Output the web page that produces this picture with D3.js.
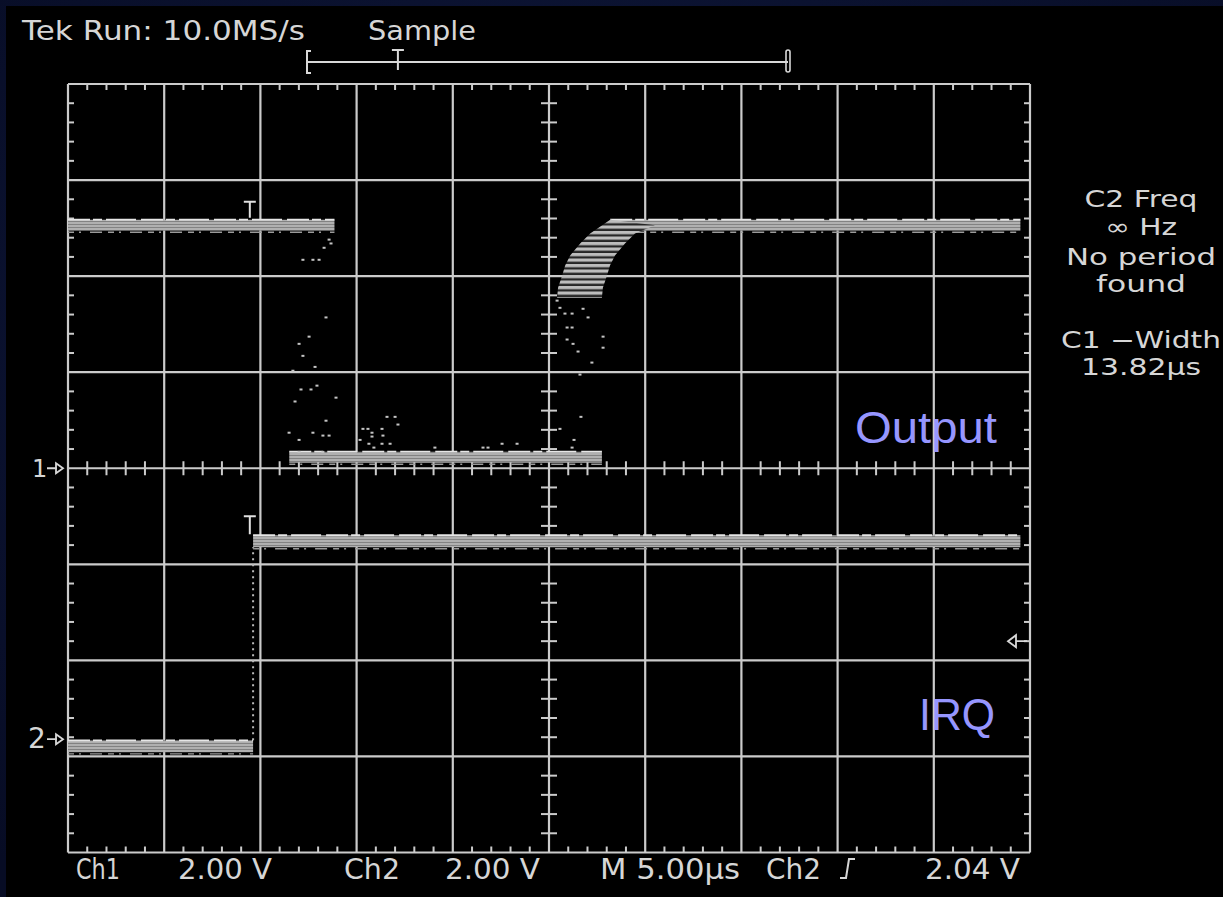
<!DOCTYPE html>
<html><head><meta charset="utf-8">
<script src="https://cdn.jsdelivr.net/npm/d3@7"></script>
<style>html,body{margin:0;padding:0;background:#0a1130;overflow:hidden}</style>
</head><body><svg id="c" width="1223" height="897"></svg>
<script>
// ---------------- data ----------------
const timeGrid = [0, 5, 10, 15, 20, 25, 30, 35, 40, 45, 50];      // µs (M 5.00µs / div)
const divGrid = [-4, -3, -2, -1, 0, 1, 2, 3, 4];                 // vertical divisions
const voltsPerDiv = 2.0;                                         // Ch1 & Ch2 2.00 V
const channelOffsetsDiv = [0, -2.82];                            // ground markers "1" and "2"
const channelLabels = ["1", "2"];
const traceNames = ["Output", "IRQ"];

// Ch1 = Output
const outLevels = [5.06, 0.23];                 // high, low (V)
const outFallTimes = [11.5, 13.85];             // earliest / latest falling edge (µs)
const outRiseTimes = [25.42, 27.75];            // earliest / latest rising edge (µs)
const recoveryDt = [0, 0.05, 0.26, 0.42, 0.68, 1.2, 1.72, 2.76];   // µs after rise
const recoveryV  = [3.55, 3.76, 4.01, 4.22, 4.43, 4.68, 4.89, 5.06];
const recordEnd = 49.5;
const outEdgeSamples = [
  [13.57,4.76],[13.67,4.68],[13.31,4.59],[12.21,4.34],[12.73,4.34],[13.05,4.34],
  [13.41,3.14],[12.53,2.74],[12.01,2.59],[12.21,2.34],[12.84,2.11],[11.69,2.03],
  [12.94,1.72],[12.11,1.64],[12.63,1.64],[11.80,1.39],[13.93,1.47],[13.41,0.99],
  [11.49,0.74],[12.73,0.74],[13.25,0.68],[13.57,0.68],[12.01,0.59],[13.25,0.34],
  [12.01,0.34],[16.58,1.07],[17.00,1.07],[17.15,0.91],[15.33,0.82],[15.59,0.82],
  [16.32,0.82],[15.80,0.74],[15.80,0.66],[16.37,0.68],[15.18,0.59],[15.64,0.51],
  [16.32,0.51],[16.74,0.51],[15.90,0.43],[19.07,0.43],[21.57,0.43],[21.83,0.43],
  [22.56,0.51],[23.34,0.51],[26.20,0.43],[26.30,0.59],[25.57,0.82],[26.66,1.07],
  [26.61,1.95],[27.23,2.20],[27.81,2.74],[27.81,2.51],[25.94,2.93],[26.20,2.93],
  [25.94,2.68],[26.25,2.59],[26.51,2.43],[27.03,3.14],[25.42,3.49],[25.57,3.34],
  [25.83,3.22],[26.20,3.22],[26.77,3.32]
];

// Ch2 = IRQ
const irqLevels = [4.12, -0.15];               // high, low (V)
const irqEdgeTime = 9.62;                      // µs

const triggerTime = 9.45;                      // µs
const triggerLevel = 2.04;                     // V on Ch2

const headerTexts = ["Tek Run: 10.0MS/s", "Sample"];
const footerTexts = ["Ch1", "2.00 V", "Ch2", "2.00 V", "M 5.00µs", "Ch2", "2.04 V"];
const measurementTexts = ["C2 Freq", "∞ Hz", "No period", "found", "C1 −Width", "13.82µs"];

// ---------------- layout ----------------
const svg = d3.select("#c");
const W = 1223, H = 897;
const x = d3.scaleLinear().domain([0, 50]).range([68, 1030]);
const yDiv = d3.scaleLinear().domain([-4, 4]).range([852.5, 84]);
const yCh = (ch, v) => yDiv(channelOffsetsDiv[ch] + v / voltsPerDiv);
const rec = d3.scaleLinear().domain([0, 50]).range([307, 788]);
const grey = "#cbcbcb", textCol = "#d6d6d6";

const defs = svg.append("defs");
const p1 = defs.append("pattern").attr("id", "band").attr("patternUnits", "userSpaceOnUse")
  .attr("width", 8).attr("height", 3);
p1.append("rect").attr("width", 8).attr("height", 3).attr("fill", "#828282");
p1.append("rect").attr("width", 8).attr("height", 2).attr("fill", "#b0b0b0");
const p2 = defs.append("pattern").attr("id", "rise").attr("patternUnits", "userSpaceOnUse")
  .attr("width", 8).attr("height", 5.5);
p2.append("rect").attr("width", 8).attr("height", 5.5).attr("fill", "#262626");
p2.append("rect").attr("width", 8).attr("height", 3.2).attr("fill", "#bdbdbd");
const rg = defs.append("radialGradient").attr("id", "bg").attr("cx", "50%").attr("cy", "40%").attr("r", "75%");
rg.append("stop").attr("offset", "0%").attr("stop-color", "#101a40");
rg.append("stop").attr("offset", "100%").attr("stop-color", "#070c24");

svg.append("rect").attr("width", W).attr("height", H).attr("fill", "url(#bg)");
svg.append("rect").attr("x", 6).attr("y", 6).attr("width", W - 6).attr("height", H - 6).attr("fill", "#000");

// ---- graticule ----
const g = svg.append("g");
g.selectAll("line.v").data(timeGrid).join("line")
  .attr("x1", d => x(d)).attr("x2", d => x(d)).attr("y1", yDiv(4)).attr("y2", yDiv(-4))
  .attr("stroke", grey).attr("stroke-width", 2.2);
g.selectAll("line.h").data(divGrid).join("line")
  .attr("y1", d => yDiv(d)).attr("y2", d => yDiv(d)).attr("x1", x(0)).attr("x2", x(50))
  .attr("stroke", grey).attr("stroke-width", 2.2);

const minorT = d3.range(0, 50.001, 1).filter(t => t % 5 !== 0);
const minorD = d3.range(-4, 4.001, 0.2).filter(d => Math.abs(d - Math.round(d)) > 1e-6);
const tk = svg.append("g").attr("stroke", grey).attr("stroke-width", 2);
minorT.forEach(t => {
  tk.append("line").attr("x1", x(t)).attr("x2", x(t)).attr("y1", yDiv(4)).attr("y2", yDiv(4) + 6);
  tk.append("line").attr("x1", x(t)).attr("x2", x(t)).attr("y1", yDiv(-4)).attr("y2", yDiv(-4) - 6);
  tk.append("line").attr("x1", x(t)).attr("x2", x(t)).attr("y1", yDiv(0) - 7).attr("y2", yDiv(0) + 7);
});
minorD.forEach(d => {
  tk.append("line").attr("y1", yDiv(d)).attr("y2", yDiv(d)).attr("x1", x(0)).attr("x2", x(0) + 6);
  tk.append("line").attr("y1", yDiv(d)).attr("y2", yDiv(d)).attr("x1", x(50)).attr("x2", x(50) - 6);
  tk.append("line").attr("y1", yDiv(d)).attr("y2", yDiv(d)).attr("x1", x(25) - 8).attr("x2", x(25) + 8);
});

// ---- traces ----
const tr = svg.append("g");
function band(ch, t0, t1, v, hw) {
  const pts = [[t0, v], [t1, v]];
  const area = d3.area().x(d => x(d[0])).y0(d => yCh(ch, d[1] - hw)).y1(d => yCh(ch, d[1] + hw));
  tr.append("path").attr("d", area(pts)).attr("fill", "url(#band)");
  tr.append("line").attr("x1", x(t0)).attr("x2", x(t1))
    .attr("y1", yCh(ch, v + hw)).attr("y2", yCh(ch, v + hw))
    .attr("stroke", "#e6e6e6").attr("stroke-width", 1.8).attr("stroke-dasharray", "22,3,9,4,30,5");
  tr.append("line").attr("x1", x(t0)).attr("x2", x(t1))
    .attr("y1", yCh(ch, v - hw) + 1.5).attr("y2", yCh(ch, v - hw) + 1.5)
    .attr("stroke", "#9a9a9a").attr("stroke-width", 1.4).attr("stroke-dasharray", "6,5,2,9,12,6");
}
const hw1 = 0.115, hw2 = 0.125;
band(0, 0, outFallTimes[1], outLevels[0], hw1);
band(0, outFallTimes[0], outRiseTimes[1], outLevels[1], hw1);
band(0, outRiseTimes[0] + recoveryDt[recoveryDt.length - 1], recordEnd, outLevels[0], hw1);

// recovery envelope between earliest and latest sweep
const early = recoveryDt.map((dt, i) => [outRiseTimes[0] + dt, recoveryV[i] + (i === recoveryDt.length - 1 ? hw1 : 0)]);
const late = recoveryDt.map((dt, i) => [outRiseTimes[1] + dt, recoveryV[i]]).reverse();
const env = early.concat(late);
tr.append("path").attr("d", d3.line().x(d => x(d[0])).y(d => yCh(0, d[1]))(env) + "Z")
  .attr("fill", "url(#rise)");

// edge samples
tr.selectAll("rect.dot").data(outEdgeSamples).join("rect")
  .attr("x", d => x(d[0]) - 1.5).attr("y", d => yCh(0, d[1]) - 1)
  .attr("width", 3).attr("height", 2).attr("fill", "#c4c4c4");

// IRQ
band(1, 0, irqEdgeTime, irqLevels[1], hw2);
band(1, irqEdgeTime, recordEnd, irqLevels[0], hw2);
tr.append("line").attr("x1", x(irqEdgeTime)).attr("x2", x(irqEdgeTime))
  .attr("y1", yCh(1, irqLevels[1] + hw2)).attr("y2", yCh(1, irqLevels[0] - hw2))
  .attr("stroke", "#b8b8b8").attr("stroke-width", 2).attr("stroke-dasharray", "2,4");

// trigger T markers on traces
function tMark(cx, yBottom, h) {
  svg.append("path").attr("d", `M${cx - 6},${yBottom - h} h12 M${cx},${yBottom - h} V${yBottom}`)
    .attr("stroke", "#e0e0e0").attr("stroke-width", 2).attr("fill", "none");
}
tMark(x(triggerTime), yCh(0, outLevels[0] + hw1) - 2, 16);
tMark(x(triggerTime), yCh(1, irqLevels[0] + hw2) - 1, 18);

// trigger level marker (right)
const tly = yCh(1, triggerLevel);
svg.append("path").attr("d", `M1008,${tly} L1016,${tly - 6} L1016,${tly + 6} Z M1016,${tly} H1027`)
  .attr("stroke", "#d8d8d8").attr("stroke-width", 1.8).attr("fill", "none");

// ground markers (left)
channelOffsetsDiv.forEach((o, i) => {
  const yy = yDiv(o);
  svg.append("text").attr("x", i === 0 ? 32 : 28).attr("y", yy + 9).text(channelLabels[i])
    .attr("fill", textCol).attr("font-family", "DejaVu Sans").attr("font-size", i === 0 ? 24 : 28);
  svg.append("path").attr("d", `M47,${yy} H57 M56,${yy - 5} L63,${yy} L56,${yy + 5} Z`)
    .attr("stroke", "#d8d8d8").attr("stroke-width", 1.8).attr("fill", "none");
});

// record bar
svg.append("path").attr("d", `M${rec(0)},62 H${rec(50)}`).attr("stroke", "#d8d8d8").attr("stroke-width", 2);
svg.append("path").attr("d", `M${rec(0) + 4},51 H${rec(0)} V73 H${rec(0) + 4}`)
  .attr("stroke", "#d8d8d8").attr("stroke-width", 2).attr("fill", "none");
svg.append("rect").attr("x", rec(50) - 2).attr("y", 50).attr("width", 4).attr("height", 22).attr("rx", 2)
  .attr("stroke", "#d8d8d8").attr("stroke-width", 1.6).attr("fill", "none");
svg.append("path").attr("d", `M${rec(triggerTime) - 6},50 h12 M${rec(triggerTime)},50 V70`)
  .attr("stroke", "#d8d8d8").attr("stroke-width", 2);

// ---- texts ----
const headerPos = [[22, 283], [368, 108]];
headerTexts.forEach((t, i) => {
  svg.append("text").attr("x", headerPos[i][0]).attr("y", 40).text(t)
    .attr("textLength", headerPos[i][1]).attr("lengthAdjust", "spacingAndGlyphs")
    .attr("fill", textCol).attr("font-family", "DejaVu Sans").attr("font-size", 27);
});
const footerPos = [[76, 44], [178, 94], [344, 56], [445, 95], [600, 140], [766, 55], [925, 95]];
footerTexts.forEach((t, i) => {
  svg.append("text").attr("x", footerPos[i][0]).attr("y", 879).text(t)
    .attr("textLength", footerPos[i][1]).attr("lengthAdjust", "spacingAndGlyphs")
    .attr("fill", textCol).attr("font-family", "DejaVu Sans Condensed, DejaVu Sans").attr("font-size", 28);
});
// rising slope symbol
svg.append("path").attr("d", "M840,878 H846 L849,859 H855").attr("stroke", textCol)
  .attr("stroke-width", 2).attr("fill", "none");

const measPos = [[207, 113], [235, 72], [265, 150], [292, 90], [348, 160], [375, 120]];
measurementTexts.forEach((t, i) => {
  svg.append("text").attr("x", 1141).attr("y", measPos[i][0]).text(t)
    .attr("text-anchor", "middle")
    .attr("textLength", measPos[i][1]).attr("lengthAdjust", "spacingAndGlyphs")
    .attr("fill", textCol).attr("font-family", "DejaVu Sans").attr("font-size", 23);
});

// trace names
const namePos = [[855, 443, 142], [919, 730, 76]];
traceNames.forEach((t, i) => {
  svg.append("text").attr("x", namePos[i][0]).attr("y", namePos[i][1]).text(t)
    .attr("textLength", namePos[i][2]).attr("lengthAdjust", "spacingAndGlyphs")
    .attr("fill", "#9696ff").attr("font-family", "Liberation Sans, Arial, sans-serif").attr("font-size", 45);
});
</script></body></html>
